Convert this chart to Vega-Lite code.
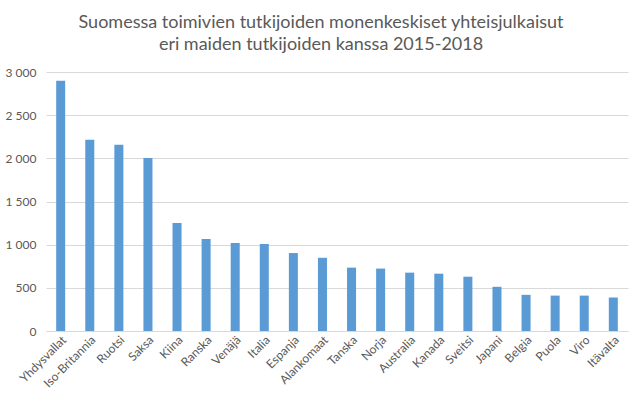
{
  "$schema": "https://vega.github.io/schema/vega-lite/v6.json",
  "autosize": "none",
  "width": 582,
  "height": 259,
  "padding": {"left": 46, "top": 72, "right": 15, "bottom": 72},
  "background": "white",
  "title": {
    "text": ["Suomessa toimivien tutkijoiden monenkeskiset yhteisjulkaisut", "eri maiden tutkijoiden kanssa 2015-2018"],
    "font": "Lato",
    "fontSize": 18,
    "fontWeight": "normal",
    "color": "#595959",
    "lineHeight": 22,
    "anchor": "middle",
    "dx": -16,
    "offset": 12
  },
  "data": {
    "values": [
      {"maa": "Yhdysvallat", "julkaisut": 2900},
      {"maa": "Iso-Britannia", "julkaisut": 2215},
      {"maa": "Ruotsi", "julkaisut": 2157},
      {"maa": "Saksa", "julkaisut": 2005},
      {"maa": "Kiina", "julkaisut": 1252},
      {"maa": "Ranska", "julkaisut": 1067},
      {"maa": "Venäjä", "julkaisut": 1020},
      {"maa": "Italia", "julkaisut": 1008},
      {"maa": "Espanja", "julkaisut": 903},
      {"maa": "Alankomaat", "julkaisut": 848},
      {"maa": "Tanska", "julkaisut": 734},
      {"maa": "Norja", "julkaisut": 723},
      {"maa": "Australia", "julkaisut": 676},
      {"maa": "Kanada", "julkaisut": 664},
      {"maa": "Sveitsi", "julkaisut": 629},
      {"maa": "Japani", "julkaisut": 512},
      {"maa": "Belgia", "julkaisut": 419},
      {"maa": "Puola", "julkaisut": 410},
      {"maa": "Viro", "julkaisut": 410},
      {"maa": "Itävalta", "julkaisut": 388}
    ]
  },
  "mark": {"type": "bar", "color": "#5B9BD5"},
  "encoding": {
    "x": {
      "field": "maa",
      "type": "nominal",
      "sort": null,
      "scale": {"paddingInner": 0.69, "paddingOuter": 0.35},
      "axis": {
        "title": null,
        "labelAngle": -45,
        "labelAlign": "right",
        "labelBaseline": "top",
        "labelFont": "Lato",
        "labelFontSize": 12,
        "labelColor": "#595959",
        "labelPadding": 3,
        "ticks": false,
        "domainColor": "#D9D9D9",
        "domainWidth": 1,
        "grid": false
      }
    },
    "y": {
      "field": "julkaisut",
      "type": "quantitative",
      "scale": {"domain": [0, 3000]},
      "axis": {
        "title": null,
        "values": [0, 500, 1000, 1500, 2000, 2500, 3000],
        "labelExpr": "replace(format(datum.value, ','), ',', ' ')",
        "labelFont": "Lato",
        "labelFontSize": 12,
        "labelColor": "#595959",
        "labelPadding": 10,
        "ticks": false,
        "domain": false,
        "grid": true,
        "gridColor": "#D9D9D9",
        "gridWidth": 1
      }
    }
  },
  "config": {
    "view": {"stroke": null}
  }
}
